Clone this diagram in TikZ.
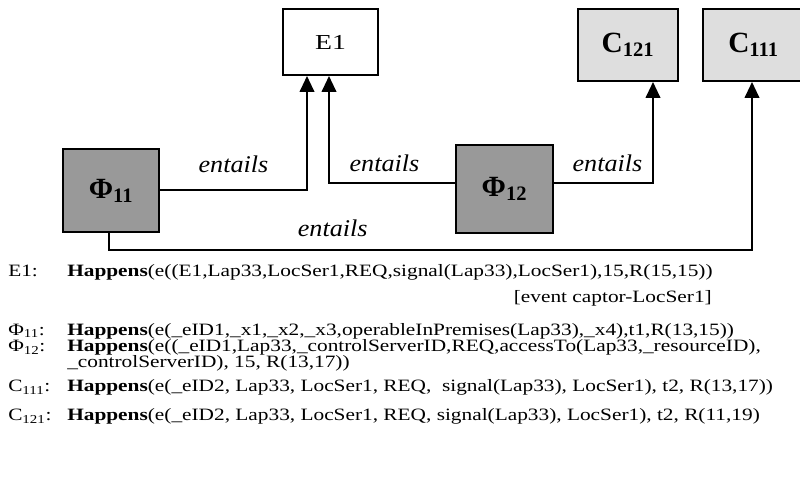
\documentclass[tikz,border=0pt]{standalone}
\usepackage{fontspec}
\setmainfont{Liberation Serif}
\newfontfamily\deffont[FakeStretch=1.23]{Liberation Serif}
\newfontfamily\boxfont[FakeStretch=1.3]{Liberation Serif}
\newfontfamily\entfont[FakeStretch=1.09]{Liberation Serif}
\usetikzlibrary{arrows.meta,calc}
\begin{document}
\begin{tikzpicture}[x=0.75pt,y=-0.75pt,
        box/.style={draw,line width=1.5pt,inner sep=0pt},
        cond/.style={box,fill=black!40,minimum width=72pt,font=\fontsize{22}{24}\selectfont\bfseries},
        cons/.style={box,fill=black!13,minimum width=74.5pt,minimum height=54pt,font=\fontsize{22}{24}\selectfont\bfseries},
        link/.style={line width=1.5pt,-{Triangle[length=12pt,width=11pt]}},
        lbl/.style={font=\entfont\fontsize{18}{20}\selectfont\itshape},
        defn/.style={anchor=base west,inner sep=0pt,font=\deffont\fontsize{13}{15}\selectfont}]
        \useasboundingbox (0,0) rectangle (800,477);
        \node[box,minimum width=71.25pt,minimum height=49.5pt,font=\boxfont\fontsize{16}{18}\selectfont] (e1) at (330.5,42) {E1};
        \node[cons] (c121) at (628,45) {C\textsubscript{121}};
        \node[cons,minimum width=76pt] (c111) at (753.5,45) {C\textsubscript{111}};
        \node[cond,minimum height=62.25pt] (phi11) at (111,190.5) {Φ\textsubscript{11}};
        \node[cond,minimum width=72.75pt,minimum height=66pt] (phi12) at (504.5,189) {Φ\textsubscript{12}};
        \draw[link] (phi11.east) -| node[lbl,pos=0.25,above=9.5pt] (ent1) {entails} ($(e1.south)+(-23.5,0)$);
        \draw[link] ($(phi12.west)+(0,-6)$) -| node[lbl,pos=0.28,above=4.2pt] (ent2) {entails} ($(e1.south)+(-1.5,0)$);
        \draw[link] ($(phi12.east)+(0,-6)$) -| node[lbl,pos=0.27,above=4.2pt] (ent3) {entails} ($(c121.south)+(25,0)$);
        \draw[link] ($(phi11.south)+(-2,0)$) -- ++(0,17) -| node[lbl,pos=0.174,above=5.7pt] (ent4) {entails} ($(c111.south)+(-1.5,0)$);
        \node[defn] (ke1) at (8,277) {E1:};
        \node[defn] (de1) at (67,277) {\textbf{Happens}(e((E1,Lap33,LocSer1,REQ,signal(Lap33),LocSer1),15,R(15,15))};
        \node[defn,anchor=base east] (de1b) at (712,303) {[event captor-LocSer1]};
        \node[defn] (kphi11) at (8,335) {Φ\textsubscript{11}:};
        \node[defn] (dphi11) at (67,335) {\textbf{Happens}(e(\_eID1,\_x1,\_x2,\_x3,operableInPremises(Lap33),\_x4),t1,R(13,15))};
        \node[defn] (kphi12) at (8,352) {Φ\textsubscript{12}:};
        \node[defn] (dphi12) at (67,352) {\textbf{Happens}(e((\_eID1,Lap33,\_controlServerID,REQ,accessTo(Lap33,\_resourceID),};
        \node[defn] (dphi12b) at (67,368) {\_controlServerID), 15, R(13,17))};
        \node[defn] (kc111) at (8,392) {C\textsubscript{111}:};
        \node[defn] (dc111) at (67,392) {\textbf{Happens}(e(\_eID2, Lap33, LocSer1, REQ, \ signal(Lap33), LocSer1), t2, R(13,17))};
        \node[defn] (kc121) at (8,421) {C\textsubscript{121}:};
        \node[defn] (dc121) at (67,421) {\textbf{Happens}(e(\_eID2, Lap33, LocSer1, REQ, signal(Lap33), LocSer1), t2, R(11,19)};
\end{tikzpicture}
\end{document}
